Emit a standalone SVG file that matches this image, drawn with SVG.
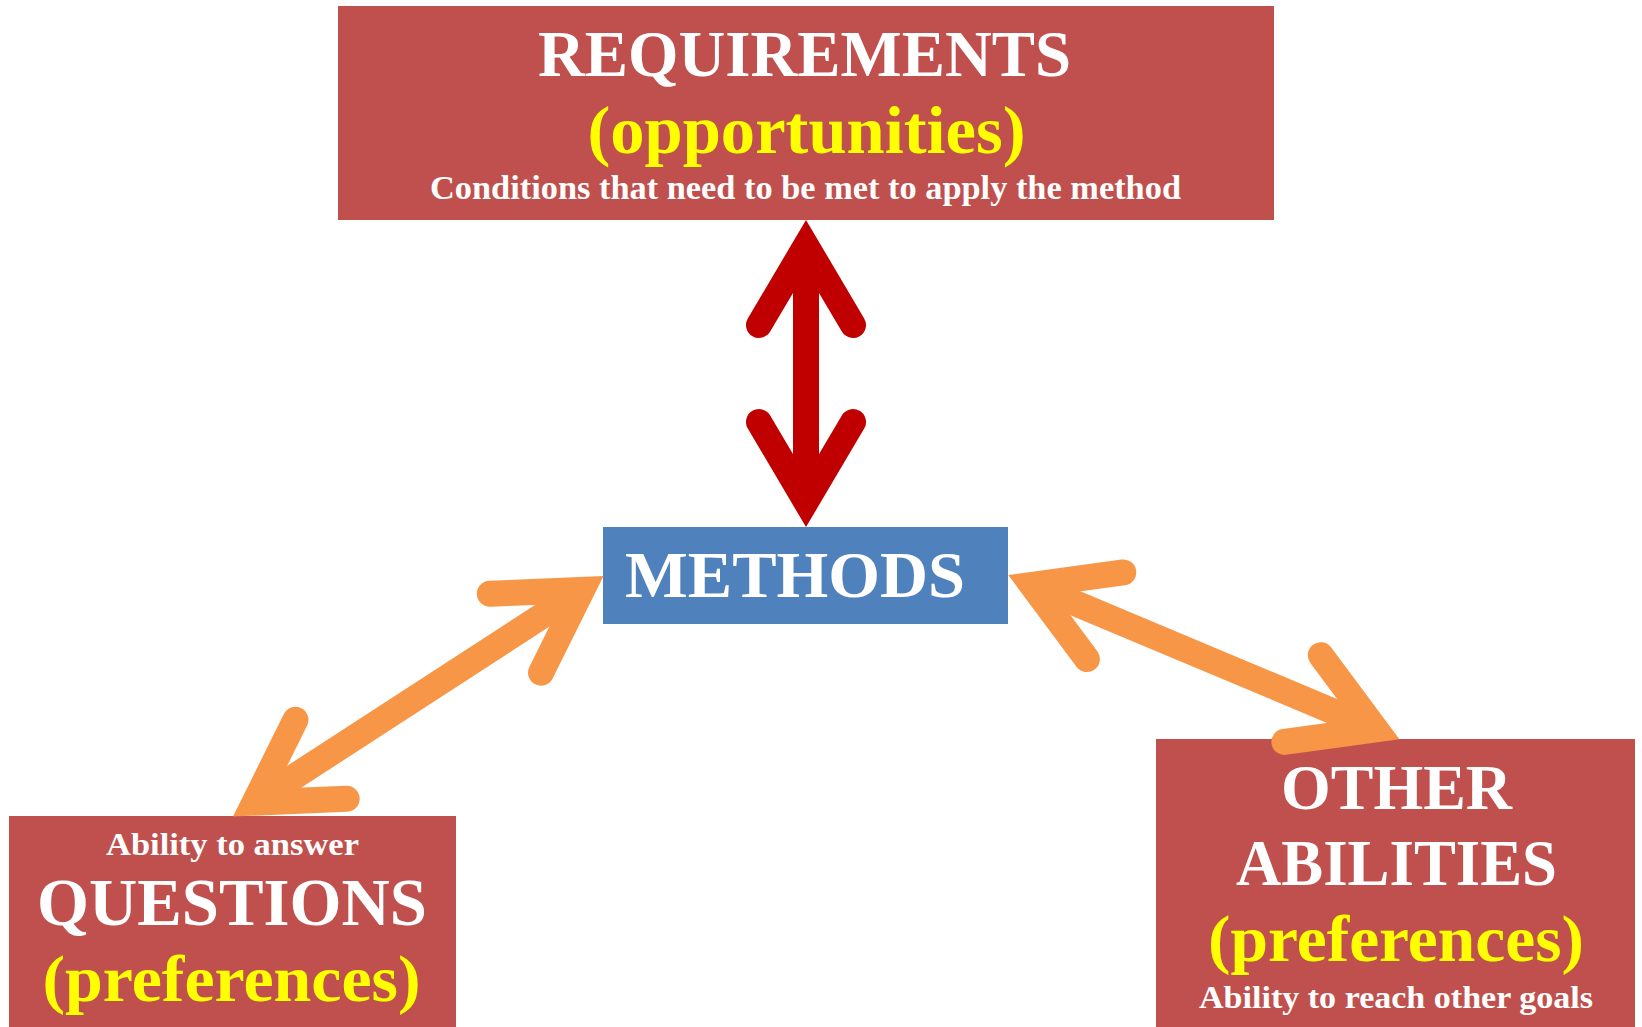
<svg xmlns="http://www.w3.org/2000/svg" width="1642" height="1027" viewBox="0 0 1642 1027">
  <style>
    .box { fill: #C0504D; }
    .method { fill: #4F81BD; }
    text { font-family: "Liberation Serif", "DejaVu Serif", serif; font-weight: bold; }
    .w { fill: #FFFFFF; }
    .y { fill: #FFFF00; }
    .head { fill: none; stroke-width: 26; stroke-linecap: round; stroke-linejoin: miter; stroke-miterlimit: 10; }
    .shaft { fill: none; stroke-width: 26; stroke-linecap: butt; }
    .red { stroke: #C00000; }
    .orange { stroke: #F79646; }
  </style>

  <rect width="1642" height="1027" fill="#FFFFFF"/>

  <g id="requirements">
    <rect class="box" x="338" y="6" width="936" height="214"/>
    <text class="w" x="538" y="75.5" font-size="65" textLength="533" lengthAdjust="spacingAndGlyphs">REQUIREMENTS</text>
    <text class="y" x="587.5" y="153" font-size="68" textLength="438" lengthAdjust="spacingAndGlyphs">(opportunities)</text>
    <text class="w" x="430" y="199" font-size="33" textLength="751" lengthAdjust="spacingAndGlyphs">Conditions that need to be met to apply the method</text>
  </g>

  <g id="methods">
    <rect class="method" x="603" y="527" width="405" height="97"/>
    <text class="w" x="625" y="596.5" font-size="66" textLength="340" lengthAdjust="spacingAndGlyphs">METHODS</text>
  </g>

  <g id="questions">
    <rect class="box" x="9" y="816" width="447" height="211"/>
    <text class="w" x="106" y="855" font-size="32" textLength="253" lengthAdjust="spacingAndGlyphs">Ability to answer</text>
    <text class="w" x="37" y="925" font-size="67" textLength="390" lengthAdjust="spacingAndGlyphs">QUESTIONS</text>
    <text class="y" x="42.5" y="1001" font-size="66" textLength="378" lengthAdjust="spacingAndGlyphs">(preferences)</text>
  </g>

  <g id="other-abilities">
    <rect class="box" x="1156" y="739" width="479" height="288"/>
    <text class="w" x="1281" y="809" font-size="64" textLength="231" lengthAdjust="spacingAndGlyphs">OTHER</text>
    <text class="w" x="1236" y="885" font-size="65" textLength="321" lengthAdjust="spacingAndGlyphs">ABILITIES</text>
    <text class="y" x="1208" y="960.5" font-size="66" textLength="376" lengthAdjust="spacingAndGlyphs">(preferences)</text>
    <text class="w" x="1199" y="1008" font-size="30.5" textLength="394" lengthAdjust="spacingAndGlyphs">Ability to reach other goals</text>
  </g>

  <g id="connectors">
    <!-- requirements <-> methods -->
    <path class="shaft red" d="M806,245.5 V501.5"/>
    <path class="head red" d="M759,325 L806,245.5 L853,325"/>
    <path class="head red" d="M759,422 L806,501.5 L853,422"/>

    <!-- methods <-> questions -->
    <path class="shaft orange" d="M254.4,802.6 L582.1,589.9"/>
    <path class="head orange" d="M295.5,719.8 L254.4,802.6 L346.7,798.7"/>
    <path class="head orange" d="M489.8,593.8 L582.1,589.9 L541,672.7"/>

    <!-- methods <-> other abilities -->
    <path class="shaft orange" d="M1031.8,584.9 L1375.9,729.4"/>
    <path class="head orange" d="M1086.9,659.1 L1031.8,584.9 L1123.3,572.4"/>
    <path class="head orange" d="M1320.8,655.2 L1375.9,729.4 L1284.4,741.9"/>
  </g>
</svg>
